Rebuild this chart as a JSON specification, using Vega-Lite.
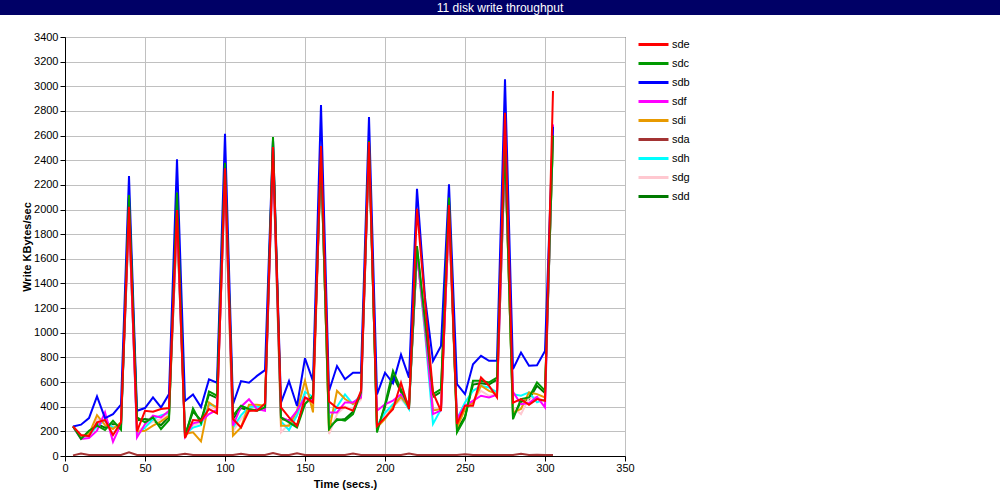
{
"$schema": "https://vega.github.io/schema/vega-lite/v6.json",
"padding": 0,
"background": "white",
"config": {"font": "Liberation Sans", "view": {"stroke": null}},
"spacing": 15,
"resolve": {"scale": {"color": "independent"}, "legend": {"color": "independent"}},
"vconcat": [
{
"width": 1000, "height": 15,
"view": {"fill": "#000066", "stroke": null},
"data": {"values": [{"label": "11 disk write throughput"}]},
"mark": {"type": "text", "color": "white", "fontSize": 12, "baseline": "middle", "align": "center"},
"encoding": {"text": {"field": "label"}}
},
{
"spacing": 20,
"resolve": {"scale": {"color": "independent"}, "legend": {"color": "independent"}},
"hconcat": [
{"width": 1, "height": 1, "data": {"values": []}, "mark": "point", "view": {"stroke": null}},
{
"width": 560, "height": 419,
"view": {"stroke": "black", "strokeWidth": 1},
"data": {"values": [
{"t":5,"s":"sdd","v":240},{"t":10,"s":"sdd","v":150},{"t":15,"s":"sdd","v":190},{"t":20,"s":"sdd","v":260},{"t":25,"s":"sdd","v":230},{"t":30,"s":"sdd","v":260},{"t":35,"s":"sdd","v":240},{"t":40,"s":"sdd","v":2100},{"t":45,"s":"sdd","v":290},{"t":50,"s":"sdd","v":300},{"t":55,"s":"sdd","v":290},{"t":60,"s":"sdd","v":250},{"t":65,"s":"sdd","v":320},{"t":70,"s":"sdd","v":2120},{"t":75,"s":"sdd","v":170},{"t":80,"s":"sdd","v":360},{"t":85,"s":"sdd","v":290},{"t":90,"s":"sdd","v":500},{"t":95,"s":"sdd","v":470},{"t":100,"s":"sdd","v":2360},{"t":105,"s":"sdd","v":300},{"t":110,"s":"sdd","v":390},{"t":115,"s":"sdd","v":370},{"t":120,"s":"sdd","v":380},{"t":125,"s":"sdd","v":380},{"t":130,"s":"sdd","v":2560},{"t":135,"s":"sdd","v":300},{"t":140,"s":"sdd","v":290},{"t":145,"s":"sdd","v":250},{"t":150,"s":"sdd","v":440},{"t":155,"s":"sdd","v":470},{"t":160,"s":"sdd","v":2430},{"t":165,"s":"sdd","v":240},{"t":170,"s":"sdd","v":290},{"t":175,"s":"sdd","v":300},{"t":180,"s":"sdd","v":360},{"t":185,"s":"sdd","v":500},{"t":190,"s":"sdd","v":2530},{"t":195,"s":"sdd","v":210},{"t":200,"s":"sdd","v":400},{"t":205,"s":"sdd","v":650},{"t":210,"s":"sdd","v":520},{"t":215,"s":"sdd","v":410},{"t":220,"s":"sdd","v":1680},{"t":225,"s":"sdd","v":1080},{"t":230,"s":"sdd","v":480},{"t":235,"s":"sdd","v":520},{"t":240,"s":"sdd","v":2070},{"t":245,"s":"sdd","v":210},{"t":250,"s":"sdd","v":320},{"t":255,"s":"sdd","v":580},{"t":260,"s":"sdd","v":590},{"t":265,"s":"sdd","v":580},{"t":270,"s":"sdd","v":620},{"t":275,"s":"sdd","v":2490},{"t":280,"s":"sdd","v":320},{"t":285,"s":"sdd","v":440},{"t":290,"s":"sdd","v":460},{"t":295,"s":"sdd","v":570},{"t":300,"s":"sdd","v":510},{"t":305,"s":"sdd","v":2580},
{"t":5,"s":"sdg","v":240},{"t":10,"s":"sdg","v":160},{"t":15,"s":"sdg","v":180},{"t":20,"s":"sdg","v":300},{"t":25,"s":"sdg","v":270},{"t":30,"s":"sdg","v":240},{"t":35,"s":"sdg","v":260},{"t":40,"s":"sdg","v":1950},{"t":45,"s":"sdg","v":200},{"t":50,"s":"sdg","v":240},{"t":55,"s":"sdg","v":280},{"t":60,"s":"sdg","v":300},{"t":65,"s":"sdg","v":340},{"t":70,"s":"sdg","v":1900},{"t":75,"s":"sdg","v":190},{"t":80,"s":"sdg","v":250},{"t":85,"s":"sdg","v":270},{"t":90,"s":"sdg","v":400},{"t":95,"s":"sdg","v":380},{"t":100,"s":"sdg","v":2250},{"t":105,"s":"sdg","v":200},{"t":110,"s":"sdg","v":300},{"t":115,"s":"sdg","v":380},{"t":120,"s":"sdg","v":390},{"t":125,"s":"sdg","v":380},{"t":130,"s":"sdg","v":2450},{"t":135,"s":"sdg","v":192},{"t":140,"s":"sdg","v":260},{"t":145,"s":"sdg","v":330},{"t":150,"s":"sdg","v":450},{"t":155,"s":"sdg","v":430},{"t":160,"s":"sdg","v":2450},{"t":165,"s":"sdg","v":178},{"t":170,"s":"sdg","v":340},{"t":175,"s":"sdg","v":400},{"t":180,"s":"sdg","v":380},{"t":185,"s":"sdg","v":460},{"t":190,"s":"sdg","v":2500},{"t":195,"s":"sdg","v":230},{"t":200,"s":"sdg","v":330},{"t":205,"s":"sdg","v":400},{"t":210,"s":"sdg","v":460},{"t":215,"s":"sdg","v":390},{"t":220,"s":"sdg","v":1650},{"t":225,"s":"sdg","v":1000},{"t":230,"s":"sdg","v":380},{"t":235,"s":"sdg","v":390},{"t":240,"s":"sdg","v":1950},{"t":245,"s":"sdg","v":280},{"t":250,"s":"sdg","v":400},{"t":255,"s":"sdg","v":450},{"t":260,"s":"sdg","v":529},{"t":265,"s":"sdg","v":489},{"t":270,"s":"sdg","v":500},{"t":275,"s":"sdg","v":2450},{"t":280,"s":"sdg","v":394},{"t":285,"s":"sdg","v":340},{"t":290,"s":"sdg","v":470},{"t":295,"s":"sdg","v":480},{"t":300,"s":"sdg","v":440},{"t":305,"s":"sdg","v":2600},
{"t":5,"s":"sdh","v":240},{"t":10,"s":"sdh","v":150},{"t":15,"s":"sdh","v":170},{"t":20,"s":"sdh","v":240},{"t":25,"s":"sdh","v":290},{"t":30,"s":"sdh","v":230},{"t":35,"s":"sdh","v":250},{"t":40,"s":"sdh","v":1950},{"t":45,"s":"sdh","v":173},{"t":50,"s":"sdh","v":230},{"t":55,"s":"sdh","v":300},{"t":60,"s":"sdh","v":330},{"t":65,"s":"sdh","v":350},{"t":70,"s":"sdh","v":1900},{"t":75,"s":"sdh","v":180},{"t":80,"s":"sdh","v":230},{"t":85,"s":"sdh","v":250},{"t":90,"s":"sdh","v":420},{"t":95,"s":"sdh","v":400},{"t":100,"s":"sdh","v":2250},{"t":105,"s":"sdh","v":230},{"t":110,"s":"sdh","v":330},{"t":115,"s":"sdh","v":400},{"t":120,"s":"sdh","v":400},{"t":125,"s":"sdh","v":390},{"t":130,"s":"sdh","v":2450},{"t":135,"s":"sdh","v":280},{"t":140,"s":"sdh","v":211},{"t":145,"s":"sdh","v":330},{"t":150,"s":"sdh","v":520},{"t":155,"s":"sdh","v":480},{"t":160,"s":"sdh","v":2450},{"t":165,"s":"sdh","v":300},{"t":170,"s":"sdh","v":400},{"t":175,"s":"sdh","v":500},{"t":180,"s":"sdh","v":420},{"t":185,"s":"sdh","v":500},{"t":190,"s":"sdh","v":2500},{"t":195,"s":"sdh","v":250},{"t":200,"s":"sdh","v":350},{"t":205,"s":"sdh","v":420},{"t":210,"s":"sdh","v":480},{"t":215,"s":"sdh","v":380},{"t":220,"s":"sdh","v":1650},{"t":225,"s":"sdh","v":1000},{"t":230,"s":"sdh","v":260},{"t":235,"s":"sdh","v":380},{"t":240,"s":"sdh","v":1950},{"t":245,"s":"sdh","v":300},{"t":250,"s":"sdh","v":435},{"t":255,"s":"sdh","v":529},{"t":260,"s":"sdh","v":570},{"t":265,"s":"sdh","v":556},{"t":270,"s":"sdh","v":516},{"t":275,"s":"sdh","v":2450},{"t":280,"s":"sdh","v":502},{"t":285,"s":"sdh","v":489},{"t":290,"s":"sdh","v":516},{"t":295,"s":"sdh","v":435},{"t":300,"s":"sdh","v":460},{"t":305,"s":"sdh","v":2600},
{"t":5,"s":"sda","v":5},{"t":10,"s":"sda","v":20},{"t":15,"s":"sda","v":8},{"t":20,"s":"sda","v":8},{"t":25,"s":"sda","v":8},{"t":30,"s":"sda","v":8},{"t":35,"s":"sda","v":8},{"t":40,"s":"sda","v":30},{"t":45,"s":"sda","v":8},{"t":50,"s":"sda","v":8},{"t":55,"s":"sda","v":8},{"t":60,"s":"sda","v":8},{"t":65,"s":"sda","v":8},{"t":70,"s":"sda","v":8},{"t":75,"s":"sda","v":18},{"t":80,"s":"sda","v":8},{"t":85,"s":"sda","v":8},{"t":90,"s":"sda","v":8},{"t":95,"s":"sda","v":8},{"t":100,"s":"sda","v":8},{"t":105,"s":"sda","v":8},{"t":110,"s":"sda","v":18},{"t":115,"s":"sda","v":8},{"t":120,"s":"sda","v":8},{"t":125,"s":"sda","v":8},{"t":130,"s":"sda","v":25},{"t":135,"s":"sda","v":8},{"t":140,"s":"sda","v":8},{"t":145,"s":"sda","v":22},{"t":150,"s":"sda","v":8},{"t":155,"s":"sda","v":8},{"t":160,"s":"sda","v":8},{"t":165,"s":"sda","v":8},{"t":170,"s":"sda","v":8},{"t":175,"s":"sda","v":8},{"t":180,"s":"sda","v":20},{"t":185,"s":"sda","v":8},{"t":190,"s":"sda","v":8},{"t":195,"s":"sda","v":8},{"t":200,"s":"sda","v":8},{"t":205,"s":"sda","v":8},{"t":210,"s":"sda","v":8},{"t":215,"s":"sda","v":20},{"t":220,"s":"sda","v":8},{"t":225,"s":"sda","v":8},{"t":230,"s":"sda","v":8},{"t":235,"s":"sda","v":8},{"t":240,"s":"sda","v":8},{"t":245,"s":"sda","v":8},{"t":250,"s":"sda","v":15},{"t":255,"s":"sda","v":8},{"t":260,"s":"sda","v":8},{"t":265,"s":"sda","v":8},{"t":270,"s":"sda","v":8},{"t":275,"s":"sda","v":8},{"t":280,"s":"sda","v":8},{"t":285,"s":"sda","v":18},{"t":290,"s":"sda","v":8},{"t":295,"s":"sda","v":10},{"t":300,"s":"sda","v":8},{"t":305,"s":"sda","v":8},
{"t":5,"s":"sdi","v":240},{"t":10,"s":"sdi","v":157},{"t":15,"s":"sdi","v":178},{"t":20,"s":"sdi","v":332},{"t":25,"s":"sdi","v":251},{"t":30,"s":"sdi","v":219},{"t":35,"s":"sdi","v":273},{"t":40,"s":"sdi","v":1950},{"t":45,"s":"sdi","v":197},{"t":50,"s":"sdi","v":205},{"t":55,"s":"sdi","v":246},{"t":60,"s":"sdi","v":281},{"t":65,"s":"sdi","v":327},{"t":70,"s":"sdi","v":1900},{"t":75,"s":"sdi","v":178},{"t":80,"s":"sdi","v":192},{"t":85,"s":"sdi","v":119},{"t":90,"s":"sdi","v":435},{"t":95,"s":"sdi","v":389},{"t":100,"s":"sdi","v":2250},{"t":105,"s":"sdi","v":165},{"t":110,"s":"sdi","v":232},{"t":115,"s":"sdi","v":416},{"t":120,"s":"sdi","v":416},{"t":125,"s":"sdi","v":408},{"t":130,"s":"sdi","v":2450},{"t":135,"s":"sdi","v":246},{"t":140,"s":"sdi","v":246},{"t":145,"s":"sdi","v":367},{"t":150,"s":"sdi","v":610},{"t":155,"s":"sdi","v":354},{"t":160,"s":"sdi","v":2450},{"t":165,"s":"sdi","v":205},{"t":170,"s":"sdi","v":529},{"t":175,"s":"sdi","v":462},{"t":180,"s":"sdi","v":421},{"t":185,"s":"sdi","v":475},{"t":190,"s":"sdi","v":2500},{"t":195,"s":"sdi","v":232},{"t":200,"s":"sdi","v":300},{"t":205,"s":"sdi","v":400},{"t":210,"s":"sdi","v":480},{"t":215,"s":"sdi","v":400},{"t":220,"s":"sdi","v":1650},{"t":225,"s":"sdi","v":1050},{"t":230,"s":"sdi","v":370},{"t":235,"s":"sdi","v":380},{"t":240,"s":"sdi","v":1950},{"t":245,"s":"sdi","v":230},{"t":250,"s":"sdi","v":381},{"t":255,"s":"sdi","v":435},{"t":260,"s":"sdi","v":570},{"t":265,"s":"sdi","v":529},{"t":270,"s":"sdi","v":502},{"t":275,"s":"sdi","v":2450},{"t":280,"s":"sdi","v":354},{"t":285,"s":"sdi","v":381},{"t":290,"s":"sdi","v":516},{"t":295,"s":"sdi","v":502},{"t":300,"s":"sdi","v":475},{"t":305,"s":"sdi","v":2600},
{"t":5,"s":"sdf","v":240},{"t":10,"s":"sdf","v":138},{"t":15,"s":"sdf","v":146},{"t":20,"s":"sdf","v":205},{"t":25,"s":"sdf","v":354},{"t":30,"s":"sdf","v":116},{"t":35,"s":"sdf","v":259},{"t":40,"s":"sdf","v":1980},{"t":45,"s":"sdf","v":151},{"t":50,"s":"sdf","v":259},{"t":55,"s":"sdf","v":327},{"t":60,"s":"sdf","v":313},{"t":65,"s":"sdf","v":367},{"t":70,"s":"sdf","v":1950},{"t":75,"s":"sdf","v":157},{"t":80,"s":"sdf","v":265},{"t":85,"s":"sdf","v":281},{"t":90,"s":"sdf","v":340},{"t":95,"s":"sdf","v":375},{"t":100,"s":"sdf","v":2280},{"t":105,"s":"sdf","v":246},{"t":110,"s":"sdf","v":400},{"t":115,"s":"sdf","v":460},{"t":120,"s":"sdf","v":381},{"t":125,"s":"sdf","v":367},{"t":130,"s":"sdf","v":2450},{"t":135,"s":"sdf","v":313},{"t":140,"s":"sdf","v":286},{"t":145,"s":"sdf","v":367},{"t":150,"s":"sdf","v":475},{"t":155,"s":"sdf","v":448},{"t":160,"s":"sdf","v":2450},{"t":165,"s":"sdf","v":354},{"t":170,"s":"sdf","v":354},{"t":175,"s":"sdf","v":435},{"t":180,"s":"sdf","v":435},{"t":185,"s":"sdf","v":475},{"t":190,"s":"sdf","v":2500},{"t":195,"s":"sdf","v":367},{"t":200,"s":"sdf","v":420},{"t":205,"s":"sdf","v":450},{"t":210,"s":"sdf","v":500},{"t":215,"s":"sdf","v":420},{"t":220,"s":"sdf","v":1650},{"t":225,"s":"sdf","v":1050},{"t":230,"s":"sdf","v":340},{"t":235,"s":"sdf","v":370},{"t":240,"s":"sdf","v":1950},{"t":245,"s":"sdf","v":300},{"t":250,"s":"sdf","v":408},{"t":255,"s":"sdf","v":448},{"t":260,"s":"sdf","v":489},{"t":265,"s":"sdf","v":475},{"t":270,"s":"sdf","v":497},{"t":275,"s":"sdf","v":2450},{"t":280,"s":"sdf","v":520},{"t":285,"s":"sdf","v":420},{"t":290,"s":"sdf","v":430},{"t":295,"s":"sdf","v":480},{"t":300,"s":"sdf","v":394},{"t":305,"s":"sdf","v":2691},
{"t":5,"s":"sdb","v":240},{"t":10,"s":"sdb","v":254},{"t":15,"s":"sdb","v":308},{"t":20,"s":"sdb","v":483},{"t":25,"s":"sdb","v":308},{"t":30,"s":"sdb","v":340},{"t":35,"s":"sdb","v":416},{"t":40,"s":"sdb","v":2272},{"t":45,"s":"sdb","v":367},{"t":50,"s":"sdb","v":389},{"t":55,"s":"sdb","v":475},{"t":60,"s":"sdb","v":394},{"t":65,"s":"sdb","v":502},{"t":70,"s":"sdb","v":2407},{"t":75,"s":"sdb","v":446},{"t":80,"s":"sdb","v":500},{"t":85,"s":"sdb","v":397},{"t":90,"s":"sdb","v":622},{"t":95,"s":"sdb","v":595},{"t":100,"s":"sdb","v":2615},{"t":105,"s":"sdb","v":420},{"t":110,"s":"sdb","v":608},{"t":115,"s":"sdb","v":595},{"t":120,"s":"sdb","v":650},{"t":125,"s":"sdb","v":697},{"t":130,"s":"sdb","v":2570},{"t":135,"s":"sdb","v":433},{"t":140,"s":"sdb","v":608},{"t":145,"s":"sdb","v":406},{"t":150,"s":"sdb","v":793},{"t":155,"s":"sdb","v":608},{"t":160,"s":"sdb","v":2848},{"t":165,"s":"sdb","v":527},{"t":170,"s":"sdb","v":730},{"t":175,"s":"sdb","v":622},{"t":180,"s":"sdb","v":676},{"t":185,"s":"sdb","v":676},{"t":190,"s":"sdb","v":2751},{"t":195,"s":"sdb","v":500},{"t":200,"s":"sdb","v":676},{"t":205,"s":"sdb","v":590},{"t":210,"s":"sdb","v":822},{"t":215,"s":"sdb","v":636},{"t":220,"s":"sdb","v":2169},{"t":225,"s":"sdb","v":1285},{"t":230,"s":"sdb","v":771},{"t":235,"s":"sdb","v":893},{"t":240,"s":"sdb","v":2204},{"t":245,"s":"sdb","v":584},{"t":250,"s":"sdb","v":502},{"t":255,"s":"sdb","v":745},{"t":260,"s":"sdb","v":813},{"t":265,"s":"sdb","v":772},{"t":270,"s":"sdb","v":772},{"t":275,"s":"sdb","v":3056},{"t":280,"s":"sdb","v":705},{"t":285,"s":"sdb","v":840},{"t":290,"s":"sdb","v":732},{"t":295,"s":"sdb","v":737},{"t":300,"s":"sdb","v":853},{"t":305,"s":"sdb","v":2672},
{"t":5,"s":"sdc","v":240},{"t":10,"s":"sdc","v":138},{"t":15,"s":"sdc","v":205},{"t":20,"s":"sdc","v":246},{"t":25,"s":"sdc","v":211},{"t":30,"s":"sdc","v":286},{"t":35,"s":"sdc","v":213},{"t":40,"s":"sdc","v":2118},{"t":45,"s":"sdc","v":313},{"t":50,"s":"sdc","v":273},{"t":55,"s":"sdc","v":313},{"t":60,"s":"sdc","v":219},{"t":65,"s":"sdc","v":292},{"t":70,"s":"sdc","v":2137},{"t":75,"s":"sdc","v":151},{"t":80,"s":"sdc","v":386},{"t":85,"s":"sdc","v":265},{"t":90,"s":"sdc","v":524},{"t":95,"s":"sdc","v":489},{"t":100,"s":"sdc","v":2380},{"t":105,"s":"sdc","v":327},{"t":110,"s":"sdc","v":408},{"t":115,"s":"sdc","v":381},{"t":120,"s":"sdc","v":367},{"t":125,"s":"sdc","v":394},{"t":130,"s":"sdc","v":2589},{"t":135,"s":"sdc","v":313},{"t":140,"s":"sdc","v":273},{"t":145,"s":"sdc","v":232},{"t":150,"s":"sdc","v":421},{"t":155,"s":"sdc","v":489},{"t":160,"s":"sdc","v":2450},{"t":165,"s":"sdc","v":219},{"t":170,"s":"sdc","v":300},{"t":175,"s":"sdc","v":286},{"t":180,"s":"sdc","v":340},{"t":185,"s":"sdc","v":516},{"t":190,"s":"sdc","v":2556},{"t":195,"s":"sdc","v":190},{"t":200,"s":"sdc","v":420},{"t":205,"s":"sdc","v":690},{"t":210,"s":"sdc","v":540},{"t":215,"s":"sdc","v":390},{"t":220,"s":"sdc","v":1704},{"t":225,"s":"sdc","v":1100},{"t":230,"s":"sdc","v":503},{"t":235,"s":"sdc","v":543},{"t":240,"s":"sdc","v":2097},{"t":245,"s":"sdc","v":192},{"t":250,"s":"sdc","v":308},{"t":255,"s":"sdc","v":610},{"t":260,"s":"sdc","v":610},{"t":265,"s":"sdc","v":597},{"t":270,"s":"sdc","v":637},{"t":275,"s":"sdc","v":2515},{"t":280,"s":"sdc","v":300},{"t":285,"s":"sdc","v":462},{"t":290,"s":"sdc","v":475},{"t":295,"s":"sdc","v":597},{"t":300,"s":"sdc","v":529},{"t":305,"s":"sdc","v":2600},
{"t":5,"s":"sde","v":240},{"t":10,"s":"sde","v":170},{"t":15,"s":"sde","v":160},{"t":20,"s":"sde","v":273},{"t":25,"s":"sde","v":292},{"t":30,"s":"sde","v":170},{"t":35,"s":"sde","v":273},{"t":40,"s":"sde","v":2023},{"t":45,"s":"sde","v":200},{"t":50,"s":"sde","v":367},{"t":55,"s":"sde","v":359},{"t":60,"s":"sde","v":381},{"t":65,"s":"sde","v":389},{"t":70,"s":"sde","v":1996},{"t":75,"s":"sde","v":146},{"t":80,"s":"sde","v":292},{"t":85,"s":"sde","v":286},{"t":90,"s":"sde","v":381},{"t":95,"s":"sde","v":346},{"t":100,"s":"sde","v":2334},{"t":105,"s":"sde","v":300},{"t":110,"s":"sde","v":232},{"t":115,"s":"sde","v":367},{"t":120,"s":"sde","v":367},{"t":125,"s":"sde","v":427},{"t":130,"s":"sde","v":2507},{"t":135,"s":"sde","v":394},{"t":140,"s":"sde","v":313},{"t":145,"s":"sde","v":246},{"t":150,"s":"sde","v":475},{"t":155,"s":"sde","v":435},{"t":160,"s":"sde","v":2515},{"t":165,"s":"sde","v":443},{"t":170,"s":"sde","v":389},{"t":175,"s":"sde","v":394},{"t":180,"s":"sde","v":367},{"t":185,"s":"sde","v":529},{"t":190,"s":"sde","v":2548},{"t":195,"s":"sde","v":243},{"t":200,"s":"sde","v":311},{"t":205,"s":"sde","v":379},{"t":210,"s":"sde","v":595},{"t":215,"s":"sde","v":379},{"t":220,"s":"sde","v":2007},{"t":225,"s":"sde","v":1250},{"t":230,"s":"sde","v":514},{"t":235,"s":"sde","v":365},{"t":240,"s":"sde","v":2037},{"t":245,"s":"sde","v":260},{"t":250,"s":"sde","v":408},{"t":255,"s":"sde","v":408},{"t":260,"s":"sde","v":637},{"t":265,"s":"sde","v":570},{"t":270,"s":"sde","v":475},{"t":275,"s":"sde","v":2786},{"t":280,"s":"sde","v":433},{"t":285,"s":"sde","v":462},{"t":290,"s":"sde","v":416},{"t":295,"s":"sde","v":462},{"t":300,"s":"sde","v":448},{"t":305,"s":"sde","v":2962}
]},
"mark": {"type": "line", "strokeWidth": 2},
"encoding": {
"x": {"field": "t", "type": "quantitative", "scale": {"domain": [0, 350], "nice": false, "zero": true},
"axis": {"title": "Time (secs.)", "values": [0,50,100,150,200,250,300,350], "format": "d", "grid": true, "gridColor": "#c0c0c0", "gridOpacity": 1, "domainColor": "black", "tickColor": "black", "tickSize": 5, "labelColor": "black", "labelFontSize": 11, "labelFlush": false, "labelPadding": 1, "titleFontSize": 11, "titleFontWeight": "bold", "titleColor": "black", "titlePadding": 5}},
"y": {"field": "v", "type": "quantitative", "scale": {"domain": [0, 3400], "nice": false},
"axis": {"title": "Write KBytes/sec", "values": [0,200,400,600,800,1000,1200,1400,1600,1800,2000,2200,2400,2600,2800,3000,3200,3400], "format": "d", "grid": true, "gridColor": "#c0c0c0", "gridOpacity": 1, "domainColor": "black", "tickColor": "black", "tickSize": 5, "labelColor": "black", "labelFontSize": 11, "labelPadding": 2, "titleFontSize": 11, "titleFontWeight": "bold", "titleColor": "black", "titlePadding": 1}},
"color": {"field": "s", "type": "nominal",
"scale": {"domain": ["sde","sdc","sdb","sdf","sdi","sda","sdh","sdg","sdd"], "range": ["#ff0000","#009900","#0000ff","#ff00ff","#e89a00","#a33333","#00ffff","#ffc8d0","#007a00"]},
"legend": {"title": null, "orient": "none", "legendX": 583, "legendY": 2, "symbolType": "M-5,0H5", "symbolSize": 36, "symbolStrokeWidth": 3, "labelFontSize": 11, "labelColor": "black", "rowPadding": 6, "labelOffset": 13, "padding": 0}}
}
}
]
}
]
}
